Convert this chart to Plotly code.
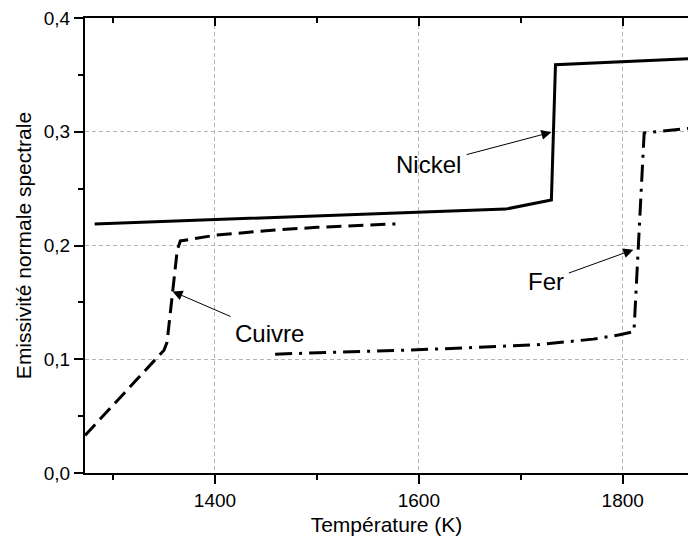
import plotly.graph_objects as go

# --- data ---
nickel_T = [1282, 1685, 1730, 1734, 1870]
nickel_e = [0.219, 0.232, 0.240, 0.359, 0.3645]

cuivre_T = [1272.5, 1350, 1353, 1363, 1366, 1400, 1450, 1500, 1577]
cuivre_e = [0.033, 0.108, 0.115, 0.196, 0.204, 0.209, 0.213, 0.216, 0.219]

fer_T = [1459, 1598, 1716, 1771, 1797, 1811, 1821, 1840, 1870]
fer_e = [0.1045, 0.1083, 0.1127, 0.1177, 0.1215, 0.1244, 0.299, 0.301, 0.3035]

x_range = [1272.5, 1864]
y_range = [0.0, 0.4]
x_ticks = [1400, 1600, 1800]
y_ticks = [0.0, 0.1, 0.2, 0.3, 0.4]

# annotations: (label, head T, head e, text T, text e)
labels = [
    ("Nickel", 1730, 0.2996, 1609.7, 0.2711),
    ("Cuivre", 1358.4, 0.1596, 1453, 0.123),
    ("Fer", 1810.4, 0.1963, 1724.3, 0.1684),
]

FONT = "Liberation Sans, Arial, sans-serif"

fig = go.Figure()
fig.add_trace(go.Scatter(x=nickel_T, y=nickel_e, mode="lines", name="Nickel",
                         line=dict(color="black", width=3)))
fig.add_trace(go.Scatter(x=cuivre_T, y=cuivre_e, mode="lines", name="Cuivre",
                         line=dict(color="black", width=3, dash="15px,7px")))
fig.add_trace(go.Scatter(x=fer_T, y=fer_e, mode="lines", name="Fer",
                         line=dict(color="black", width=3, dash="17px,7px,3px,7px")))
# invisible trace to carry the top axis
fig.add_trace(go.Scatter(x=x_range, y=y_range, mode="lines", xaxis="x2",
                         line=dict(width=0), hoverinfo="skip", showlegend=False))

for lab, hx, hy, tx, ty in labels:
    fig.add_annotation(x=hx, y=hy, ax=tx, ay=ty, xref="x", yref="y",
                       axref="x", ayref="y", text=lab, showarrow=True,
                       arrowhead=2, arrowsize=2, arrowwidth=1, arrowcolor="black",
                       startstandoff=4,
                       font=dict(family=FONT, size=24, color="black"))

grid = dict(showgrid=True, gridcolor="#b4b4b4", gridwidth=1, griddash="4px,3px")

fig.update_layout(
    width=688, height=542,
    margin=dict(l=85, r=0, t=18, b=69),
    paper_bgcolor="white", plot_bgcolor="white",
    separators=", ",
    showlegend=False,
    font=dict(family=FONT, size=19, color="black"),
    xaxis=dict(range=x_range, tickvals=x_ticks, ticks="outside", ticklen=9,
               tickwidth=2, tickcolor="black", showline=True, linewidth=2,
               linecolor="black", zeroline=False,
               minor=dict(dtick=100, tick0=1300, ticks="outside", ticklen=5,
                          tickwidth=2, tickcolor="black", showgrid=False),
               title=dict(text="Température (K)", font=dict(size=21), standoff=8),
               tickfont=dict(size=19), **grid),
    xaxis2=dict(range=x_range, overlaying="x", side="top", anchor="y",
                tickvals=x_ticks, ticks="inside", ticklen=8, tickwidth=2,
                tickcolor="black", showticklabels=False, showline=True,
                linewidth=2, linecolor="black", showgrid=False, zeroline=False,
                minor=dict(dtick=100, tick0=1300, ticks="inside", ticklen=5,
                           tickwidth=2, tickcolor="black", showgrid=False)),
    yaxis=dict(range=y_range, tickvals=y_ticks, tickformat=".1f", ticks="outside",
               ticklen=9, tickwidth=2, tickcolor="black", showline=True,
               linewidth=2, linecolor="black", zeroline=False,
               minor=dict(dtick=0.05, tick0=0, ticks="outside", ticklen=5,
                          tickwidth=2, tickcolor="black", showgrid=False),
               title=dict(text="Emissivité normale spectrale", font=dict(size=21),
                          standoff=6),
               tickfont=dict(size=19), **grid),
)

fig.write_html("out.html",
               config={"displayModeBar": False},
               post_script="document.body.style.margin='0px';"
                           "document.body.style.overflow='hidden';")
